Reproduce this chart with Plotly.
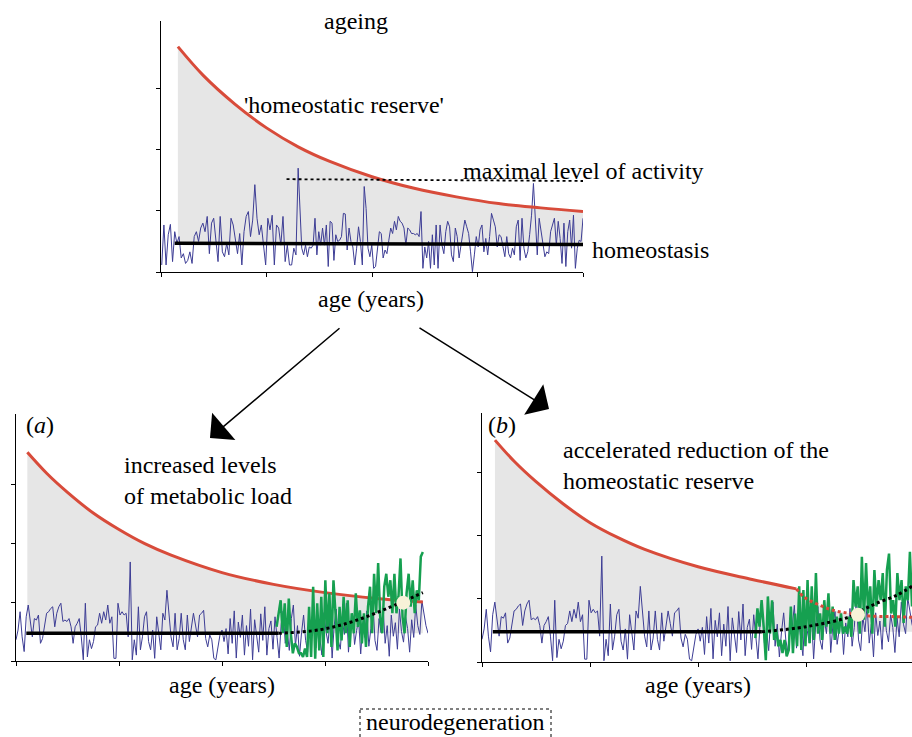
import numpy as np
import plotly.graph_objects as go

W, H = 912, 737
FONT = "Liberation Serif, 'Times New Roman', Times, serif"

# ---------------- data ----------------
# top panel (ageing)
top_red_x = [0.16, 0.4, 0.7, 1.0, 1.3, 1.6, 2.0, 2.4, 2.8, 3.2, 3.6, 4.0]
top_red_y = [3.69, 3.22, 2.75, 2.36, 2.05, 1.81, 1.56, 1.37, 1.23, 1.12, 1.05, 0.99]
top_homeo_x = [0.13, 4.0]
top_homeo_y = [0.47, 0.45]
top_max_x = [1.19, 4.0]
top_max_y = [1.52, 1.49]
# baseline activity, read in three stretches of age
top_blue_1_span = [0.007, 1.30]
top_blue_1 = [
    0.115, 0.77, 0.115, 0.61, 0.78, 0.17, 0.66, 0.47, 0.58, 0.23,
    0.30, 0.14, 0.19, 0.33, 0.14, 0.58, 0.66, 0.50, 0.72, 0.80,
    0.66, 0.91, 0.30, 0.80, 0.88, 0.50, 0.17, 0.91, 0.33, 0.25,
    0.47, 0.28, 0.88, 0.77, 0.50, 0.30, 0.63, 0.115, 0.66, 0.91,
    0.99, 0.58, 0.85, 1.43, 0.88, 0.61, 0.77, 0.47, 0.115, 0.88,
    0.69, 0.93, 0.115, 0.77, 0.72, 0.44, 0.91, 0.17, 0.44, 0.115,
    0.115, 0.39, 0.28, 1.70,
]
top_blue_2_span = [1.334, 2.626]
top_blue_2 = [
    0.39, 0.28, 0.44, 0.25, 0.41, 0.39, 0.44, 0.88, 0.28, 0.66,
    0.44, 0.72, 0.44, 0.77, 0.09, 0.83, 0.80, 0.19, 0.61, 0.50,
    0.52, 0.58, 0.96, 0.95, 0.36, 0.72, 0.50, 0.41, 0.115, 0.39,
    0.74, 0.50, 0.115, 1.40, 1.04, 0.39, 0.25, 0.44, 0.06, 0.09,
    0.39, 0.66, 0.63, 0.23, 0.36, 0.30, 0.52, 0.72, 0.63, 0.83,
    0.69, 0.91, 0.83, 0.80, 0.72, 0.44, 0.72, 0.69, 0.63, 0.63,
    0.61, 0.63, 0.58, 0.99, 0.06, 0.41, 0.23, 0.50, 0.06, 0.61,
    0.115, 0.77, 0.06,
]
top_blue_3_span = [2.645, 4.0]
top_blue_3 = [
    0.77, 0.44, 0.30, 0.66, 0.83, 0.74, 0.28, 0.17, 0.72, 0.58,
    0.23, 0.44, 0.69, 0.85, 0.74, 0.63, 0.33, 0.005, 0.28, 0.58,
    0.41, 0.69, 0.77, 0.33, 0.55, 0.28, 0.58, 0.96, 0.85, 0.74,
    0.41, 0.61, 0.58, 0.44, 0.25, 0.58, 0.30, 0.23, 0.39, 0.28,
    0.74, 0.85, 0.19, 0.88, 0.39, 0.23, 0.33, 0.61, 0.93, 1.45,
    0.83, 0.28, 0.88, 0.66, 0.44, 0.25, 0.33, 0.30, 0.66, 0.77,
    0.88, 0.44, 0.83, 0.55, 0.14, 0.80, 0.09, 0.66, 0.85, 0.39,
    0.93, 0.06, 0.39, 0.52, 0.50, 0.88,
]

# panels (a) and (b): shared baseline activity
ab_blue_span = [0.0, 4.0]
ab_blue = [
    0.36, 0.525, 0.836, 0.41, 0.16, 0.75, 0.95, 0.695, 0.41, 0.72,
    0.695, 0.78, 0.30, 0.38, 0.58, 0.81, 0.836, 0.89, 0.92, 0.58,
    0.81, 0.92, 0.98, 0.67, 0.695, 0.67, 0.72, 0.58, 0.30, 0.58,
    0.64, 0.72, 0.41, 0.02, 0.98, 0.07, 0.36, 0.21, 0.33, 0.58,
    0.61, 0.81, 0.64, 0.836, 0.695, 0.95, 0.64, 0.75, 0.045, 0.045,
    0.98, 0.78, 0.836, 0.78, 0.81, 0.41, 1.68, 0.02, 0.36, 0.10,
    0.92, 0.19, 0.41, 0.75, 0.836, 0.33, 0.19, 0.525, 0.045, 0.75,
    0.47, 0.19, 0.81, 0.695, 1.20, 0.81, 0.41, 0.24, 0.81, 0.19,
    0.38, 0.81, 0.36, 0.19, 0.78, 0.33, 0.55, 0.81, 0.61, 0.41,
    0.78, 0.81, 0.86, 0.38, 0.24, 0.44, 0.36, 0.045, 0.02, 0.24,
    0.44, 0.525, 0.33,
    0.55, 0.12, 0.72, 0.30, 0.85, 0.05, 0.66, 0.40, 0.78, 0.10,
    0.60, 0.25, 0.88, 0.02, 0.70, 0.45, 0.15, 0.80, 0.35, 0.92,
    0.10, 0.55, 0.68, 0.20, 0.75, 0.40, 0.05, 0.62, 0.85, 0.30,
    0.50, 0.18, 0.72, 0.95, 0.25, 0.60, 0.08, 0.48, 0.78, 0.35,
    0.15, 0.70, 0.55, 0.90, 0.22, 0.65, 0.40, 0.10, 0.82, 0.50,
    0.30, 0.75, 0.05, 0.60, 0.88, 0.35, 0.20, 0.68, 0.45, 0.98,
    0.15, 0.58, 0.80, 0.28, 0.52, 0.70, 0.12, 0.62, 0.40, 0.85,
    0.25, 0.55, 1.00, 0.35, 0.18, 0.72, 0.48, 0.90, 0.30, 0.60,
    0.08, 0.78, 0.42, 0.65, 0.20, 0.88, 0.50, 0.32, 0.75, 0.55,
    0.15, 0.70, 0.40, 0.95, 0.60, 0.45, 1.02, 0.80, 0.60, 0.47,
]

# panel (a)
a_red_x = [0.11, 0.3, 0.5, 0.75, 1.0, 1.25, 1.5, 2.0, 2.5, 3.0, 3.5, 3.95]
a_red_y = [3.54, 3.18, 2.86, 2.51, 2.23, 1.99, 1.80, 1.50, 1.30, 1.16, 1.06, 1.0]
a_homeo_x = [0.10, 2.55]
a_homeo_y = [0.47, 0.47]
a_trend_x = [2.55, 2.95, 3.27, 3.6, 3.95]
a_trend_y = [0.47, 0.53, 0.67, 0.89, 1.16]
a_green = [
    0.58, 0.81, 1.03, 0.47, 0.98, 0.24, 1.06, 0.47, 0.13, 0.30,
    0.24, 0.13, 0.13, 0.07, 0.21, 0.07, 0.92, 0.07, 1.26, 0.04,
    0.98, 0.18, 1.09, 0.07, 1.37, 0.47, 1.15, 0.24, 1.37, 0.81,
    0.18, 0.92, 0.35, 1.09, 0.47, 1.03, 0.24, 0.81, 0.47, 1.15,
    0.58, 0.86, 0.30, 0.81, 0.24, 0.92, 1.26, 0.47, 1.48, 0.81,
    1.66, 0.75, 0.47, 1.26, 1.48, 1.09, 1.37, 0.81, 1.48, 0.81,
    1.09, 1.74, 0.75, 0.47, 1.15, 1.48, 0.92, 1.37, 0.81, 1.20,
    1.03, 1.77, 1.85,
]
a_green_span = [2.53, 3.95]
a_point = [3.76, 0.99]

# panel (b)
b_red_x = [0.12, 0.3, 0.5, 0.75, 1.0, 1.25, 1.5, 2.0, 2.5, 2.91]
b_red_y = [3.52, 3.18, 2.86, 2.51, 2.21, 1.98, 1.79, 1.51, 1.31, 1.16]
b_redfall_x = [2.91, 2.98, 3.1, 3.25, 3.41, 3.59, 3.8, 3.98]
b_redfall_y = [1.16, 1.03, 0.92, 0.82, 0.77, 0.73, 0.72, 0.71]
b_homeo_x = [0.10, 2.59]
b_homeo_y = [0.48, 0.48]
b_trend_x = [2.59, 3.0, 3.41, 3.53, 3.65, 3.84, 3.98]
b_trend_y = [0.48, 0.56, 0.72, 0.83, 0.93, 1.06, 1.2]
b_green = [
    0.38, 0.85, 0.56, 0.98, 0.56, 0.03, 1.04, 0.45, 0.98, 0.35,
    0.51, 0.25, 0.35, 0.14, 0.35, 0.09, 0.19, 0.88, 0.14, 0.77,
    0.25, 1.20, 0.19, 1.14, 0.25, 1.30, 0.30, 1.20, 0.35, 1.41,
    0.45, 0.77, 0.35, 0.98, 0.56, 1.09, 0.45, 0.88, 0.35, 0.72,
    0.45, 0.77, 0.45, 0.56, 0.45, 0.72, 0.40, 1.30, 0.88, 1.20,
    0.45, 1.67, 0.67, 1.57, 0.77, 1.20, 0.45, 1.46, 0.88, 1.30,
    0.98, 1.41, 0.56, 1.46, 1.72, 0.77, 0.98, 0.56, 1.41, 0.98,
    1.30, 0.62, 1.20, 0.98, 1.75, 0.88,
]
b_green_span = [2.53, 3.98]
b_point = [3.48, 0.75]

# ---------------- styles ----------------
RED = "#d84b3a"
BLUE = "#3d3d95"
GREEN = "#16a050"
GRAY = "#e6e6e6"
CREAM = "#f7f2d8"


def fx(p):
    return p / W


def fy(p):
    return 1 - p / H


def spread(span, vals):
    return list(np.linspace(span[0], span[1], len(vals)))


fig = go.Figure()


def line(x, y, xa, ya, color, width, dash=None, shape="linear", **kw):
    fig.add_trace(go.Scatter(
        x=x, y=y, xaxis=xa, yaxis=ya, mode="lines",
        line=dict(color=color, width=width, dash=dash, shape=shape),
        hoverinfo="skip", **kw))


def reserve(xs, ys, base, xa, ya):
    fig.add_trace(go.Scatter(x=xs, y=[base] * len(xs), xaxis=xa, yaxis=ya,
                             mode="lines", line=dict(width=0, shape="spline"),
                             hoverinfo="skip"))
    fig.add_trace(go.Scatter(x=xs, y=ys, xaxis=xa, yaxis=ya, mode="lines",
                             line=dict(width=0, shape="spline"),
                             fill="tonexty", fillcolor=GRAY, hoverinfo="skip"))


# top panel
reserve(top_red_x, top_red_y, 0.46, "x", "y")
top_bx = (spread(top_blue_1_span, top_blue_1) + spread(top_blue_2_span, top_blue_2)
          + spread(top_blue_3_span, top_blue_3))
line(top_bx, top_blue_1 + top_blue_2 + top_blue_3, "x", "y", BLUE, 1)
line(top_red_x, top_red_y, "x", "y", RED, 3, shape="spline")
line(top_max_x, top_max_y, "x", "y", "black", 1.8, dash="dot")
line(top_homeo_x, top_homeo_y, "x", "y", "black", 3.5)

# panel a
reserve(a_red_x, a_red_y, 0.47, "x2", "y2")
line(spread(ab_blue_span, ab_blue), ab_blue, "x2", "y2", BLUE, 1)
line(a_red_x, a_red_y, "x2", "y2", RED, 3, shape="spline")
line(spread(a_green_span, a_green), a_green, "x2", "y2", GREEN, 2.5)
line(a_homeo_x, a_homeo_y, "x2", "y2", "black", 3.5)
line(a_trend_x, a_trend_y, "x2", "y2", "black", 3, dash="dot", shape="spline")
fig.add_trace(go.Scatter(x=[a_point[0]], y=[a_point[1]], xaxis="x2", yaxis="y2",
                         mode="markers", marker=dict(size=14, color=CREAM),
                         hoverinfo="skip"))

# panel b
b_all_x = b_red_x + b_redfall_x[1:]
b_all_y = b_red_y + b_redfall_y[1:]
reserve(b_all_x, b_all_y, 0.48, "x3", "y3")
line(spread(ab_blue_span, ab_blue), ab_blue, "x3", "y3", BLUE, 1)
line(b_red_x, b_red_y, "x3", "y3", RED, 3, shape="spline")
line(spread(b_green_span, b_green), b_green, "x3", "y3", GREEN, 2.5)
line(b_redfall_x, b_redfall_y, "x3", "y3", RED, 3, dash="dot", shape="spline")
line(b_homeo_x, b_homeo_y, "x3", "y3", "black", 3.5)
line(b_trend_x, b_trend_y, "x3", "y3", "black", 3, dash="dot", shape="spline")
fig.add_trace(go.Scatter(x=[b_point[0]], y=[b_point[1]], xaxis="x3", yaxis="y3",
                         mode="markers", marker=dict(size=14, color=CREAM),
                         hoverinfo="skip"))

ax_common = dict(showline=True, linecolor="black", linewidth=1, ticks="outside",
                 ticklen=4, tickcolor="black", tickwidth=1, showticklabels=False,
                 showgrid=False, zeroline=False, fixedrange=True)

fig.update_layout(
    width=W, height=H, margin=dict(l=0, r=0, t=0, b=0),
    paper_bgcolor="white", plot_bgcolor="white", showlegend=False,
    xaxis=dict(domain=[fx(161), fx(583)], range=[0, 4], anchor="y",
               tickvals=[0, 1, 2, 3, 4], **ax_common),
    yaxis=dict(domain=[fy(272), fy(21)], range=[0, 4.11], anchor="x",
               tickvals=[0, 1, 2, 3], **ax_common),
    xaxis2=dict(domain=[fx(16), fx(428)], range=[0, 4], anchor="y2",
                tickvals=[0, 1, 2, 3, 4], **ax_common),
    yaxis2=dict(domain=[fy(661), fy(414)], range=[0, 4.19], anchor="x2",
                tickvals=[0, 1, 2, 3], **ax_common),
    xaxis3=dict(domain=[fx(482), 1.0], range=[0, 3.98], anchor="y3",
                tickvals=[0, 1, 2, 3], **ax_common),
    yaxis3=dict(domain=[fy(662), fy(413)], range=[0, 3.95], anchor="x3",
                tickvals=[0, 1, 2, 3], **ax_common),
)

FS = 24


def text(t, x, y, xanchor="left", yanchor="middle", align="left"):
    fig.add_annotation(text=t, x=fx(x), y=fy(y), xref="paper", yref="paper",
                       xanchor=xanchor, yanchor=yanchor, align=align,
                       showarrow=False, font=dict(family=FONT, size=FS, color="black"))


text("ageing", 355.5, 21, xanchor="center")
text("'homeostatic reserve'", 242, 105)
text("maximal level of activity", 461, 171)
text("homeostasis", 590, 250)
text("age (years)", 371, 299, xanchor="center")
text("(<i>a</i>)", 24, 425)
text("increased levels<br>of metabolic load", 122, 480)
text("age (years)", 222, 685, xanchor="center")
text("(<i>b</i>)", 486, 425)
text("accelerated reduction of the<br>homeostatic reserve", 561, 465)
text("age (years)", 698, 685, xanchor="center")
text("neurodegeneration", 455, 737, xanchor="center", yanchor="bottom")

fig.add_shape(type="rect", xref="paper", yref="paper",
              x0=fx(360), x1=fx(551), y0=fy(709), y1=fy(760),
              line=dict(color="black", width=1, dash="dot"))

# arrows
for tip, tail in [((210, 438), (341, 327)), ((549, 409), (418, 327))]:
    fig.add_annotation(x=fx(tip[0]), y=fy(tip[1]), xref="paper", yref="paper",
                       ax=tail[0] - tip[0], ay=tail[1] - tip[1], axref="pixel",
                       ayref="pixel", text="", showarrow=True, arrowhead=1,
                       arrowsize=4, arrowwidth=1.5, arrowcolor="black",
                       standoff=0)

fig.write_html("out.html", config={"displayModeBar": False},
               post_script="document.body.style.margin='0px';"
                           "document.body.style.overflow='hidden';")
